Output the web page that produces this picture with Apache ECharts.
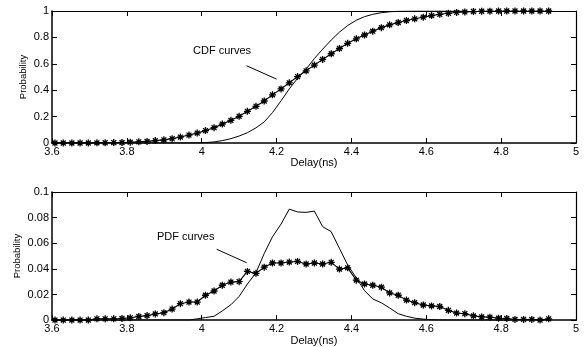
<!DOCTYPE html>
<html>
<head>
<meta charset="utf-8">
<script src="https://cdn.jsdelivr.net/npm/echarts@6/dist/echarts.min.js"></script>
<style>
  html, body { margin: 0; padding: 0; background: #fff; }
  #chart { width: 586px; height: 347px; }
</style>
</head>
<body>
<div id="chart"></div>
<script>
// bin centres (ns)
const delay = [3.608, 3.630, 3.653, 3.675, 3.697, 3.720, 3.742, 3.765, 3.787, 3.809,
  3.832, 3.854, 3.876, 3.899, 3.921, 3.943, 3.966, 3.988, 4.010, 4.033,
  4.055, 4.078, 4.100, 4.122, 4.145, 4.167, 4.189, 4.212, 4.234, 4.256,
  4.279, 4.301, 4.323, 4.346, 4.368, 4.390, 4.413, 4.435, 4.457, 4.480,
  4.502, 4.525, 4.547, 4.569, 4.592, 4.614, 4.636, 4.659, 4.681, 4.703,
  4.726, 4.748, 4.770, 4.793, 4.815, 4.837, 4.860, 4.882, 4.904, 4.927]

// CDF, starred curve and plain curve
const cdfStar = [0, 0, 0, 0, 0, 0.001, 0.002, 0.003, 0.004, 0.006,
  0.009, 0.012, 0.018, 0.024, 0.033, 0.045, 0.060, 0.075, 0.094, 0.116,
  0.143, 0.172, 0.202, 0.240, 0.278, 0.318, 0.365, 0.410, 0.456, 0.503,
  0.547, 0.590, 0.633, 0.676, 0.716, 0.755, 0.789, 0.818, 0.847, 0.874,
  0.895, 0.913, 0.928, 0.941, 0.953, 0.965, 0.975, 0.983, 0.989, 0.993,
  0.996, 0.998, 0.999, 1, 1, 1, 1, 1, 1, 1]
const cdfPlain = [0, 0, 0, 0, 0, 0, 0, 0, 0, 0,
  0, 0, 0, 0, 0, 0, 0, 0.001, 0.003, 0.008,
  0.018, 0.033, 0.053, 0.078, 0.115, 0.160, 0.230, 0.320, 0.410, 0.490,
  0.560, 0.640, 0.710, 0.780, 0.840, 0.890, 0.930, 0.957, 0.975, 0.987,
  0.994, 0.998, 0.999, 1, 1, 1, 1, 1, 1, 1]

// PDF, starred curve and plain curve
const pdfStar = [0, 0, 0, 0, 0, 0.001, 0.001, 0.001, 0.0013, 0.0018,
  0.0028, 0.0035, 0.0048, 0.0058, 0.0086, 0.0128, 0.0141, 0.0141, 0.0194, 0.0227,
  0.0272, 0.0297, 0.0300, 0.0380, 0.0365, 0.0413, 0.0446, 0.0446, 0.0453, 0.0458,
  0.0438, 0.0446, 0.0438, 0.0451, 0.0398, 0.0408, 0.0312, 0.0282, 0.0272, 0.0257,
  0.0212, 0.0194, 0.0156, 0.0136, 0.0118, 0.0111, 0.0106, 0.0076, 0.0055, 0.0050,
  0.0033, 0.0025, 0.0023, 0.0015, 0.0013, 0.0005, 0.0005, 0.0005, 0, 0.001]
const pdfPlain = [0, 0, 0, 0, 0, 0, 0, 0, 0, 0,
  0, 0, 0, 0, 0, 0, 0, 0.001, 0.002, 0.003,
  0.0072, 0.012, 0.0185, 0.0281, 0.037, 0.052, 0.065, 0.075, 0.0866, 0.0844,
  0.0841, 0.0851, 0.073, 0.069, 0.056, 0.043, 0.033, 0.023, 0.0165, 0.0135,
  0.0095, 0.005, 0.003, 0.0015, 0.0008, 0.0003, 0, 0, 0, 0,
  0, 0, 0, 0, 0, 0, 0, 0, 0, 0]

const xTicks = ['3.6', '3.8', '4', '4.2', '4.4', '4.6', '4.8', '5']
const cdfTicks = ['0', '0.2', '0.4', '0.6', '0.8', '1']
const pdfTicks = ['0', '0.02', '0.04', '0.06', '0.08', '0.1']

// annotation pointers, in data units
const cdfPointer = [[4.120, 0.585], [4.200, 0.484]]
const pdfPointer = [[4.040, 0.0553], [4.120, 0.0448]]

const font = 'Liberation Sans, Arial, sans-serif'
const pair = (ys) => delay.map((x, i) => [x, ys[i]])
const star = 'path://M5 0L5 10M0 5L10 5M1.5 1.5L8.5 8.5M8.5 1.5L1.5 8.5'

const xAxisFor = (grid, pos, show) => ({
  type: 'value', gridIndex: grid, position: pos,
  min: +xTicks[0], max: +xTicks[xTicks.length - 1], interval: 0.2,
  axisLine: { show: true, onZero: false, lineStyle: { color: '#000', width: show ? 1.5 : 1.2 } },
  axisTick: { show: true, inside: true, length: 5, lineStyle: { color: '#000' } },
  axisLabel: { show: show, margin: 3, color: '#000', fontSize: 11, fontFamily: font },
  splitLine: { show: false },
  name: show ? 'Delay(ns)' : '', nameLocation: 'middle', nameGap: 12,
  nameTextStyle: { color: '#000', fontSize: 11, fontFamily: font }
})
const yAxisFor = (grid, pos, show, ticks, gap) => ({
  type: 'value', gridIndex: grid, position: pos,
  min: 0, max: +ticks[ticks.length - 1], interval: +ticks[1],
  axisLine: { show: true, onZero: false, lineStyle: { color: '#000', width: show ? 1.5 : 1.2 } },
  axisTick: { show: true, inside: true, length: 5, lineStyle: { color: '#000' } },
  axisLabel: { show: show, margin: 3, color: '#000', fontSize: 11, fontFamily: font },
  splitLine: { show: false },
  name: show ? 'Probability' : '', nameLocation: 'middle', nameGap: gap,
  nameMoveOverlap: false,
  nameTextStyle: { color: '#000', fontSize: 9.5, fontFamily: font }
})

const pointer = (pts) => ({
  silent: true, symbol: 'none', label: { show: false },
  lineStyle: { color: '#000', width: 1, type: 'solid' },
  data: [[{ coord: pts[0] }, { coord: pts[1] }]]
})

const starSeries = (ax, ys) => ({
  type: 'line', xAxisIndex: ax, yAxisIndex: ax, data: pair(ys),
  symbol: star, symbolSize: 7, showSymbol: true,
  lineStyle: { color: '#000', width: 1.1 },
  itemStyle: { color: '#000', borderColor: '#000', borderWidth: 1.3 }
})
const plainSeries = (ax, ys, note) => ({
  type: 'line', xAxisIndex: ax, yAxisIndex: ax, data: pair(ys),
  symbol: 'none', lineStyle: { color: '#000', width: 1 },
  markLine: pointer(note)
})

const chart = echarts.init(document.getElementById('chart'))
chart.setOption({
  animation: false,
  backgroundColor: '#fff',
  grid: [
    { left: 52, right: 10, top: 11, height: 132 },
    { left: 52, right: 10, top: 192, height: 132 }
  ],
  xAxis: [xAxisFor(0, 'bottom', true), xAxisFor(0, 'top', false),
          xAxisFor(1, 'bottom', true), xAxisFor(1, 'top', false)],
  yAxis: [yAxisFor(0, 'left', true, cdfTicks, 24), yAxisFor(0, 'right', false, cdfTicks, 0),
          yAxisFor(1, 'left', true, pdfTicks, 30), yAxisFor(1, 'right', false, pdfTicks, 0)],
  graphic: [
    { type: 'text', left: 193, top: 45, style: { text: 'CDF curves', fill: '#000', font: '11px ' + font } },
    { type: 'text', left: 157, top: 231, style: { text: 'PDF curves', fill: '#000', font: '11px ' + font } }
  ],
  series: [
    starSeries(0, cdfStar),
    plainSeries(0, cdfPlain, cdfPointer),
    starSeries(2, pdfStar),
    plainSeries(2, pdfPlain, pdfPointer)
  ]
})
</script>
</body>
</html>
